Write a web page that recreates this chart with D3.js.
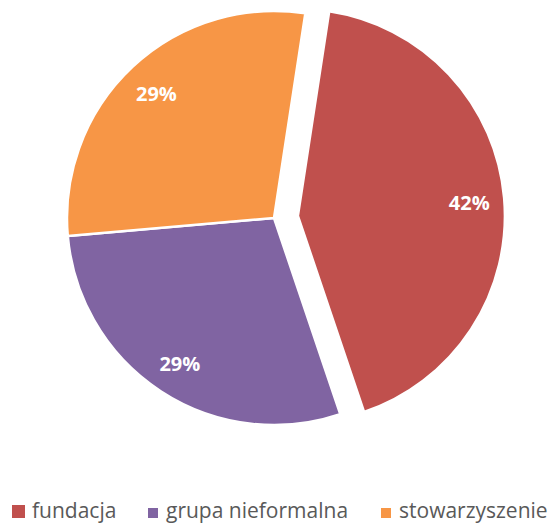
<!DOCTYPE html>
<html><head><meta charset="utf-8">
<script src="https://cdn.jsdelivr.net/npm/d3@7"></script>
<style>html,body{margin:0;padding:0;background:#fff;}svg{display:block;}</style>
</head><body>
<svg id="chart" width="549" height="524"></svg>
<script>
const categories = ["fundacja", "grupa nieformalna", "stowarzyszenie"];
const values = [42.4, 28.8, 28.8];
const colors = ["#C0504D", "#8064A2", "#F79646"];
const explode = [24, 0, 0];

const svg = d3.select("#chart");
const cx = 274, cy = 218, R = 207;
const startDeg = 8.7;

const pie = d3.pie().sort(null).value(d => d.v)
  .startAngle(startDeg * Math.PI / 180)
  .endAngle((startDeg + 360) * Math.PI / 180);
const data = pie(categories.map((c, i) => ({c, v: values[i], i})));
const total = d3.sum(values);

const arc = d3.arc().innerRadius(0).outerRadius(R);
const labelArc = d3.arc().innerRadius(172).outerRadius(172);

const g = svg.append("g").attr("transform", `translate(${cx},${cy})`);

const slices = g.selectAll("g.slice").data(data).enter().append("g")
  .attr("transform", d => {
    const m = (d.startAngle + d.endAngle) / 2;
    const o = explode[d.data.i];
    return `translate(${o * Math.sin(m)},${-o * Math.cos(m)})`;
  });

slices.append("path").attr("d", arc)
  .attr("fill", d => colors[d.data.i])
  .attr("stroke", "#fff").attr("stroke-width", 2.5).attr("stroke-linejoin", "round");

slices.append("text")
  .attr("transform", d => `translate(${labelArc.centroid(d)})`)
  .attr("text-anchor", "middle").attr("dy", "0.45em")
  .attr("font-family", "'Open Sans', Lato, sans-serif")
  .attr("font-weight", "bold").attr("font-size", 20)
  .attr("fill", "#fff")
  .text(d => Math.round(d.data.v / total * 100) + "%");

// legend
const legendX = [12, 148, 381];
const legendSq = [13, 10, 10];
const lg = svg.append("g");
categories.forEach((c, i) => {
  const s = legendSq[i];
  lg.append("rect").attr("x", legendX[i]).attr("y", 518 - s).attr("width", s).attr("height", s)
    .attr("fill", colors[i]);
  lg.append("text").attr("x", legendX[i] + (i === 0 ? 20 : 18)).attr("y", 518)
    .attr("font-family", "'Open Sans', Lato, sans-serif").attr("font-size", 21)
    .attr("fill", "#595959").text(c);
});
</script>
</body></html>
